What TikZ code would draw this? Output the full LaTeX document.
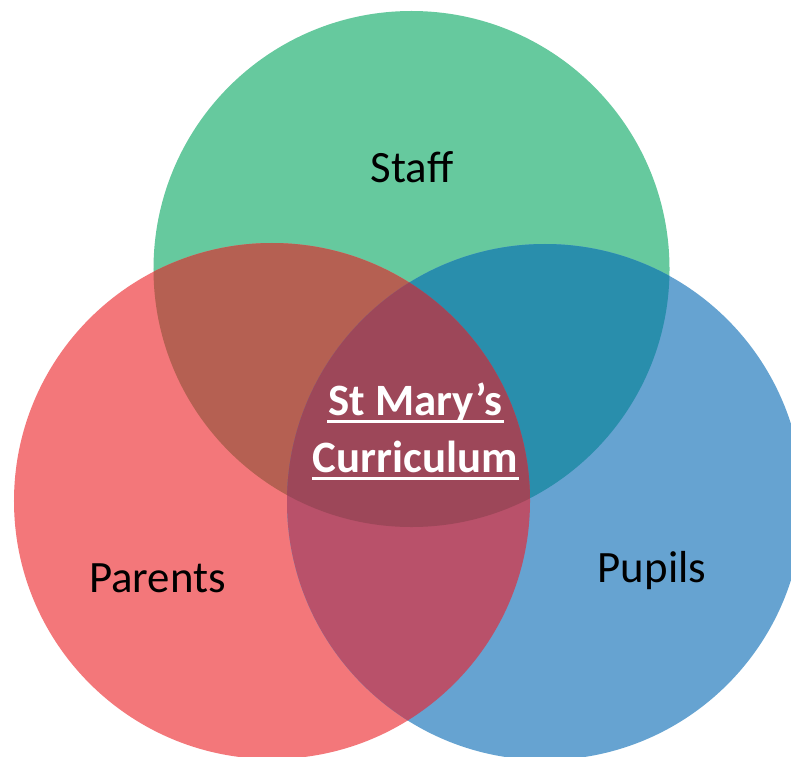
\documentclass[tikz,border=0pt]{standalone}
\usepackage{fontspec}
\setmainfont{Carlito}
\definecolor{cgreen}{HTML}{66C99E}
\definecolor{cred}{HTML}{F3777A}
\definecolor{cblue}{HTML}{66A3D1}
\definecolor{crg}{HTML}{B56052}
\definecolor{cgb}{HTML}{298EAC}
\definecolor{crb}{HTML}{B9516A}
\definecolor{call}{HTML}{9D4759}
\tikzset{
  lbl/.style={anchor=base, inner sep=0pt, font=\fontsize{45}{52}\selectfont, text=black},
  ctr/.style={anchor=base, inner sep=0pt, font=\fontsize{45}{52}\selectfont\bfseries, text=white},
  uline/.style={draw=white, line width=2.6bp}
}
\begin{document}
\begin{tikzpicture}[x=1bp,y=-1bp]
\useasboundingbox (0,0) rectangle (791,757);
\clip (0,0) rectangle (791,757);
\coordinate (G) at (411.5,269);
\coordinate (R) at (272,501);
\coordinate (B) at (545,502);
\def\rr{258bp}
\fill[cgreen] (G) circle[radius=\rr];
\fill[cred] (R) circle[radius=\rr];
\fill[cblue] (B) circle[radius=\rr];
\begin{scope}
  \clip (R) circle[radius=\rr];
  \fill[crg] (G) circle[radius=\rr];
\end{scope}
\begin{scope}
  \clip (B) circle[radius=\rr];
  \fill[cgb] (G) circle[radius=\rr];
\end{scope}
\begin{scope}
  \clip (R) circle[radius=\rr];
  \fill[crb] (B) circle[radius=\rr];
\end{scope}
\begin{scope}
  \clip (R) circle[radius=\rr];
  \clip (B) circle[radius=\rr];
  \fill[call] (G) circle[radius=\rr];
\end{scope}
\node[lbl] (staff) at (412,182) {Staff};
\node[lbl] (parents) at (157.5,592) {Parents};
\node[lbl] (pupils) at (652,582) {Pupils};
\node[ctr] (l1) at (415.5,415) {St Mary’s};
\node[ctr] (l2) at (415.5,472) {Curriculum};
\draw[uline] ([xshift=-1bp,yshift=-6.5bp]l1.base west) -- ([xshift=1bp,yshift=-6.5bp]l1.base east);
\draw[uline] ([xshift=-1bp,yshift=-6.5bp]l2.base west) -- ([xshift=1bp,yshift=-6.5bp]l2.base east);
\end{tikzpicture}
\end{document}
